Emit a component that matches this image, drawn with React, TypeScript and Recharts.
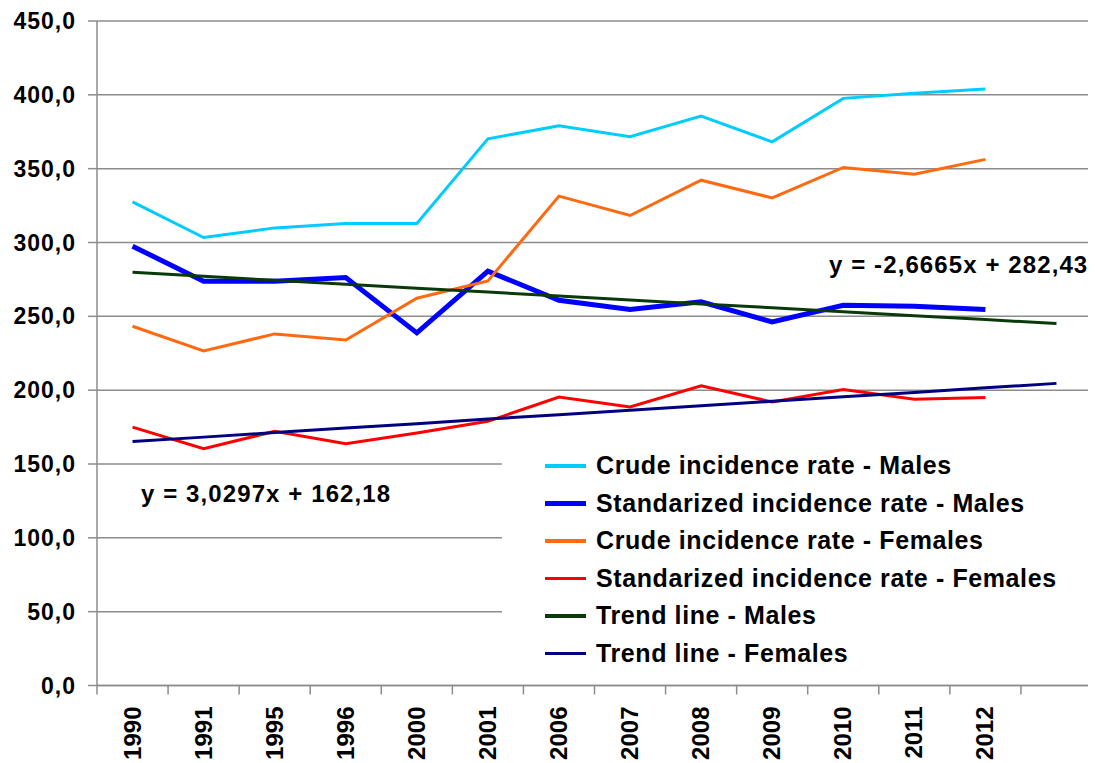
import React from 'react';
import { LineChart, Line, XAxis, YAxis, CartesianGrid, Legend } from 'recharts';

const years = ['1990', '1991', '1995', '1996', '2000', '2001', '2006', '2007', '2008', '2009', '2010', '2011', '2012', ''];
const crudeMales = [327.5, 303.4, 309.9, 312.9, 312.9, 370.2, 379.1, 371.6, 385.6, 368.2, 397.6, 401.0, 403.9, null];
const stdMales = [297.5, 273.8, 273.8, 276.3, 238.8, 280.6, 260.9, 254.6, 259.8, 246.2, 257.5, 256.8, 254.6, null];
const crudeFemales = [243.3, 226.6, 238.1, 234.0, 262.3, 274.0, 331.4, 318.3, 342.2, 330.2, 350.8, 346.3, 356.3, null];
const stdFemales = [175.0, 160.4, 172.1, 163.8, 171.0, 178.9, 195.4, 188.6, 202.9, 192.0, 200.4, 193.8, 195.0, null];
const trendMales = [279.8, 277.1, 274.4, 271.8, 269.1, 266.4, 263.8, 261.1, 258.4, 255.8, 253.1, 250.4, 247.8, 245.1];
const trendFemales = [165.2, 168.2, 171.3, 174.3, 177.3, 180.4, 183.4, 186.4, 189.5, 192.5, 195.5, 198.5, 201.6, 204.6];
const yTicks = [0, 50, 100, 150, 200, 250, 300, 350, 400, 450];

const seriesNames = [
  'Crude incidence rate - Males',
  'Standarized incidence rate - Males',
  'Crude incidence rate - Females',
  'Standarized incidence rate - Females',
  'Trend line - Males',
  'Trend line - Females',
];
const equationMales = 'y = -2,6665x + 282,43';
const equationFemales = 'y = 3,0297x + 162,18';

const data = years.map((year, i) => ({
  year,
  crudeMales: crudeMales[i],
  stdMales: stdMales[i],
  crudeFemales: crudeFemales[i],
  stdFemales: stdFemales[i],
  trendMales: trendMales[i],
  trendFemales: trendFemales[i],
}));

const W = 1088;
const H = 755;
const M = { top: 13, right: 4, left: 0, bottom: 0 };
const Y_W = 89;
const X_H = 77.5;
const BAND = (W - M.right - Y_W) / years.length;
const FONT = '"Liberation Sans", Arial, sans-serif';
const GRID = '#8c8c8c';

const series = [
  { key: 'crudeMales', color: '#00CCFF', width: 3 },
  { key: 'stdMales', color: '#0000FF', width: 5 },
  { key: 'crudeFemales', color: '#FF6A10', width: 3 },
  { key: 'stdFemales', color: '#FF0000', width: 3 },
  { key: 'trendMales', color: '#0A3A0A', width: 3 },
  { key: 'trendFemales', color: '#000080', width: 3 },
];

const XTick = (props: any) => {
  const { x, y, payload, index } = props;
  const left = x - BAND / 2;
  const right = x + BAND / 2;
  return (
    <g>
      <line x1={left} x2={left} y1={y} y2={y + 9} stroke={GRID} strokeWidth={1.5} />
      {index === years.length - 1 && (
        <line x1={right} x2={right} y1={y} y2={y + 9} stroke={GRID} strokeWidth={1.5} />
      )}
      <text
        x={x + 8}
        y={y + 21}
        transform={`rotate(-90, ${x + 8}, ${y + 21})`}
        textAnchor="end"
        fontFamily={FONT}
        fontWeight="bold"
        fontSize={24}
        fill="#000"
      >
        {payload.value}
      </text>
    </g>
  );
};

const LegendBox = () => (
  <div
    style={{
      background: '#fff',
      width: 590,
      height: 236,
      boxSizing: 'border-box',
      fontFamily: FONT,
      fontWeight: 'bold',
      fontSize: 25,
      color: '#000',
      textAlign: 'left',
    }}
  >
    {series.map((s, i) => (
      <div key={s.key} style={{ height: 37.5, display: 'flex', alignItems: 'center', paddingLeft: 43 }}>
        <div style={{ width: 41, height: s.width === 5 ? 5 : 3.5, background: s.color, marginRight: 10 }} />
        <span style={{ whiteSpace: 'nowrap', letterSpacing: 0.6 }}>{seriesNames[i]}</span>
      </div>
    ))}
  </div>
);

export default function App() {
  return (
    <div style={{ position: 'relative', width: W, height: H, background: '#fff' }}>
      <LineChart width={W} height={H} data={data} margin={M}>
        <CartesianGrid vertical={false} stroke={GRID} strokeWidth={1.5} />
        <XAxis
          dataKey="year"
          interval={0}
          height={X_H}
          padding={{ left: BAND / 2, right: BAND / 2 }}
          axisLine={{ stroke: GRID, strokeWidth: 1.5 }}
          tickLine={false}
          tickSize={0}
          tickMargin={0}
          tick={<XTick />}
        />
        <YAxis
          width={Y_W}
          domain={[0, 450]}
          ticks={yTicks}
          interval={0}
          axisLine={{ stroke: GRID, strokeWidth: 1.5 }}
          tickLine={{ stroke: GRID, strokeWidth: 1.5 }}
          tickSize={9}
          tickMargin={12}
          tickFormatter={(v: number) => v.toFixed(1).replace('.', ',')}
          tick={{ fontFamily: FONT, fontWeight: 'bold', fontSize: 23, fill: '#000', letterSpacing: 1 }}
        />
        {series.map((s, i) => (
          <Line
            key={s.key}
            dataKey={s.key}
            name={seriesNames[i]}
            stroke={s.color}
            strokeWidth={s.width}
            dot={false}
            activeDot={false}
            isAnimationActive={false}
            connectNulls={false}
            strokeLinejoin="miter"
          />
        ))}
        <Legend
          layout="horizontal"
          verticalAlign="middle"
          align="center"
          content={<LegendBox />}
          wrapperStyle={{ position: 'absolute', left: 494, top: 439, width: 590, height: 236 }}
        />
      </LineChart>
      <svg
        width={W}
        height={H}
        style={{ position: 'absolute', left: 0, top: 0, pointerEvents: 'none' }}
      >
        <text x={821} y={265} fontFamily={FONT} fontWeight="bold" fontSize={24} letterSpacing={1.1} fill="#000">
          {equationMales}
        </text>
        <text x={133} y={494} fontFamily={FONT} fontWeight="bold" fontSize={24} letterSpacing={1.1} fill="#000">
          {equationFemales}
        </text>
      </svg>
    </div>
  );
}
